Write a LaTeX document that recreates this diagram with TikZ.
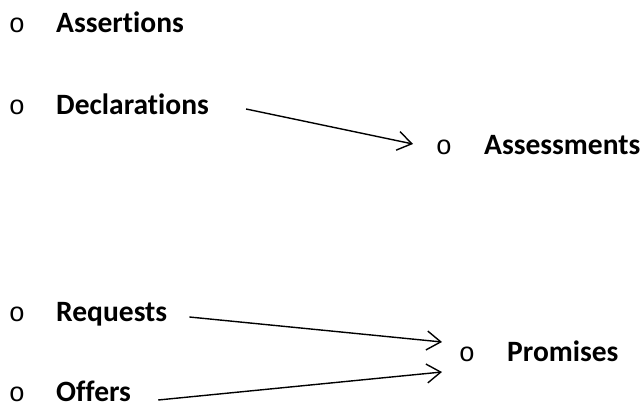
\documentclass[tikz,border=0pt]{standalone}
\usepackage{fontspec}
\setmainfont{Carlito}[Ligatures={NoCommon}]
\newfontfamily\bulletfont{Liberation Mono}
\usepackage{tikz}
\usetikzlibrary{arrows.meta,positioning}

\tikzset{
    item/.style={anchor=base west, inner sep=0pt, font=\fontsize{29.5}{34}\selectfont\bfseries},
    bullet/.style={anchor=base, inner sep=0pt, font=\bulletfont\fontsize{27}{34}\selectfont},
    arr/.style={line width=1.4pt, -{Straight Barb[length=14pt,width=19pt,line width=1.4pt]}}
}

\begin{document}
\begin{tikzpicture}[x=1pt, y=-1pt]
            \useasboundingbox (0,0) rectangle (641,403);

            % Left column
            \node[bullet] (asr-b) at (17, 33) {o};
            \node[item] (asr) at (56, 33) {Assertions};
            \node[bullet] (dec-b) at (17, 115) {o};
            \node[item] (dec) at (56, 115) {Declarations};
            \node[bullet] (req-b) at (17, 322) {o};
            \node[item] (req) at (56, 322) {Requests};
            \node[bullet] (off-b) at (17, 402) {o};
            \node[item] (off) at (56, 402) {Offers};

            % Right column
            \node[bullet] (asm-b) at (444, 155) {o};
            \node[item] (asm) at (484, 155) {Assessments};
            \node[bullet] (prm-b) at (467, 362) {o};
            \node[item] (prm) at (507, 362) {Promises};

            % Arrows
            \draw[arr] ([xshift=37pt, yshift=6pt]dec.base east) -- ([xshift=-31pt, yshift=11pt]asm-b.base);
            \draw[arr] ([xshift=22pt, yshift=5pt]req.base east) -- ([xshift=-25pt, yshift=20pt]prm-b.base);
            \draw[arr] ([xshift=27pt, yshift=2pt]off.base east) -- ([xshift=-25pt, yshift=-10pt]prm-b.base);
        \end{tikzpicture}
\end{document}
